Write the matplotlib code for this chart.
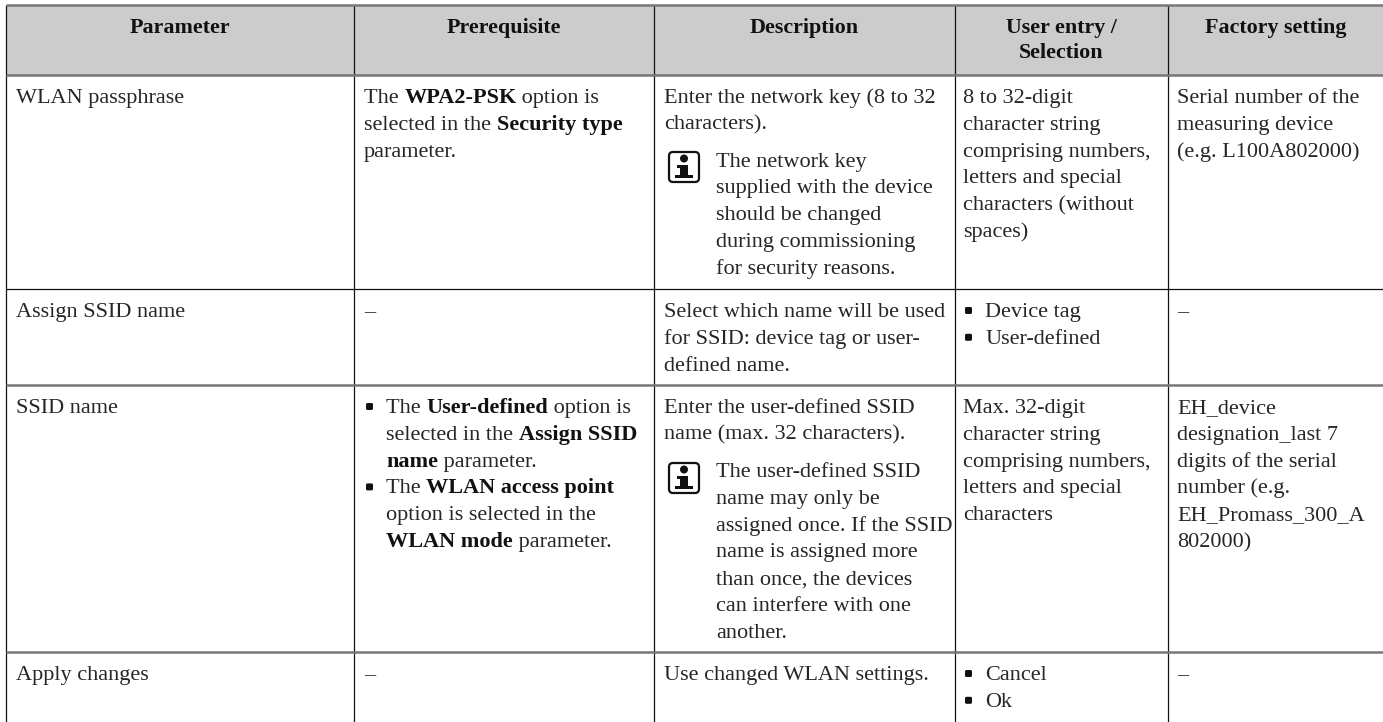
import matplotlib
matplotlib.use('Agg')
import matplotlib.pyplot as plt
from matplotlib.patches import FancyBboxPatch, Rectangle, Circle

plt.rcParams['font.family'] = ['Liberation Serif', 'DejaVu Serif']

headers = ['Parameter', 'Prerequisite', 'Description', 'User entry /\nSelection', 'Factory setting']

col_x = [6, 354, 654, 955, 1168, 1383]
row_y = [5, 75, 289, 385, 652, 722]

params = ['WLAN passphrase', 'Assign SSID name', 'SSID name', 'Apply changes']

prereq_1 = ['The **WPA2-PSK** option is', 'selected in the **Security type**', 'parameter.']
prereq_2 = ['–']
prereq_3 = ['• The **User-defined** option is', '  selected in the **Assign SSID**', '  **name** parameter.',
            '• The **WLAN access point**', '  option is selected in the', '  **WLAN mode** parameter.']
prereq_4 = ['–']

desc_1 = ['Enter the network key (8 to 32', 'characters).']
note_1 = ['The network key', 'supplied with the device', 'should be changed',
          'during commissioning', 'for security reasons.']
desc_2 = ['Select which name will be used', 'for SSID: device tag or user-', 'defined name.']
desc_3 = ['Enter the user-defined SSID', 'name (max. 32 characters).']
note_3 = ['The user-defined SSID', 'name may only be', 'assigned once. If the SSID',
          'name is assigned more', 'than once, the devices', 'can interfere with one', 'another.']
desc_4 = ['Use changed WLAN settings.']

entry_1 = ['8 to 32-digit', 'character string', 'comprising numbers,', 'letters and special',
           'characters (without', 'spaces)']
entry_2 = ['• Device tag', '• User-defined']
entry_3 = ['Max. 32-digit', 'character string', 'comprising numbers,', 'letters and special', 'characters']
entry_4 = ['• Cancel', '• Ok']

factory_1 = ['Serial number of the', 'measuring device', '(e.g. L100A802000)']
factory_2 = ['–']
factory_3 = ['EH_device', 'designation_last 7', 'digits of the serial', 'number (e.g.',
             'EH_Promass_300_A', '802000)']
factory_4 = ['–']

fs = 16
ink = '#262626'
rule = '#777777'
pad = 10
line_h = 26.8

fig = plt.figure(figsize=(13.83, 7.22), dpi=100)
ax = fig.add_axes([0, 0, 1, 1])
ax.set_xlim(0, 1383)
ax.set_ylim(722, 0)
ax.axis('off')
renderer = fig.canvas.get_renderer()


def put_runs(x, y, line):
    # split on ** so bold words sit inline with the regular ones
    parts = line.split('**')
    for i, part in enumerate(parts):
        if not part:
            continue
        t = ax.text(x, y, part, fontsize=fs, color='#111111' if i % 2 else ink,
                    fontweight='bold' if i % 2 else 'normal', va='baseline', ha='left')
        x += t.get_window_extent(renderer).width


def put_lines(x, y, lines):
    for n, line in enumerate(lines):
        yy = y + n * line_h
        if line.startswith('• '):
            ax.add_patch(FancyBboxPatch((x + 3, yy - 9), 5, 5, boxstyle='round,pad=1,rounding_size=1.5',
                                        fc='#111111', ec='none'))
            put_runs(x + 22, yy, line[2:])
        elif line.startswith('  '):
            put_runs(x + 22, yy, line[2:])
        else:
            put_runs(x, yy, line)


def put_icon(x, y):
    # info symbol: rounded box, dot, stem with slab top and foot
    c = '#111111'
    ax.add_patch(FancyBboxPatch((x + 1, y + 1), 30, 30, boxstyle='round,pad=0,rounding_size=4',
                                fc='white', ec=c, lw=1.6))
    ax.add_patch(Circle((x + 16, y + 7.5), 4, fc=c, ec='none'))
    ax.add_patch(Rectangle((x + 9, y + 13.5), 11, 3, fc=c, ec='none'))
    ax.add_patch(Rectangle((x + 12, y + 13.5), 8, 12, fc=c, ec='none'))
    ax.add_patch(Rectangle((x + 7, y + 23.5), 18, 3.5, fc=c, ec='none'))


# header band and rules
ax.add_patch(Rectangle((col_x[0], row_y[0]), col_x[-1] - col_x[0], row_y[1] - row_y[0], color='#cccccc', lw=0))
for x in col_x[:-1]:
    ax.plot([x, x], [row_y[0], row_y[-1]], color='#111111', lw=0.9, solid_capstyle='butt')
for i, y in enumerate(row_y[:-1]):
    thin = i == 2
    ax.plot([col_x[0], col_x[-1]], [y, y], color='#111111' if thin else rule, lw=0.9 if thin else 1.8,
            solid_capstyle='butt')

# header text
for i, h in enumerate(headers):
    cx = (col_x[i] + col_x[i + 1]) / 2
    for n, part in enumerate(h.split('\n')):
        ax.text(cx, 33 + n * 25, part, fontsize=15.8, fontweight='bold', color='#111111', ha='center', va='baseline')

base = [r + 28 for r in row_y[1:5]]

for r, p in enumerate(params):
    put_lines(col_x[0] + pad, base[r], [p])

for r, lines in enumerate([prereq_1, prereq_2, prereq_3, prereq_4]):
    put_lines(col_x[1] + pad, base[r], lines)

for r, lines in enumerate([desc_1, desc_2, desc_3, desc_4]):
    put_lines(col_x[2] + pad, base[r], lines)

put_icon(668, 151)
put_lines(716, 166.5, note_1)
put_icon(668, 462)
put_lines(716, 477, note_3)

for r, lines in enumerate([entry_1, entry_2, entry_3, entry_4]):
    put_lines(col_x[3] + pad - 2, base[r], lines)

for r, lines in enumerate([factory_1, factory_2, factory_3, factory_4]):
    put_lines(col_x[4] + pad - 1, base[r], lines)

fig.savefig('out.png', dpi=100)
